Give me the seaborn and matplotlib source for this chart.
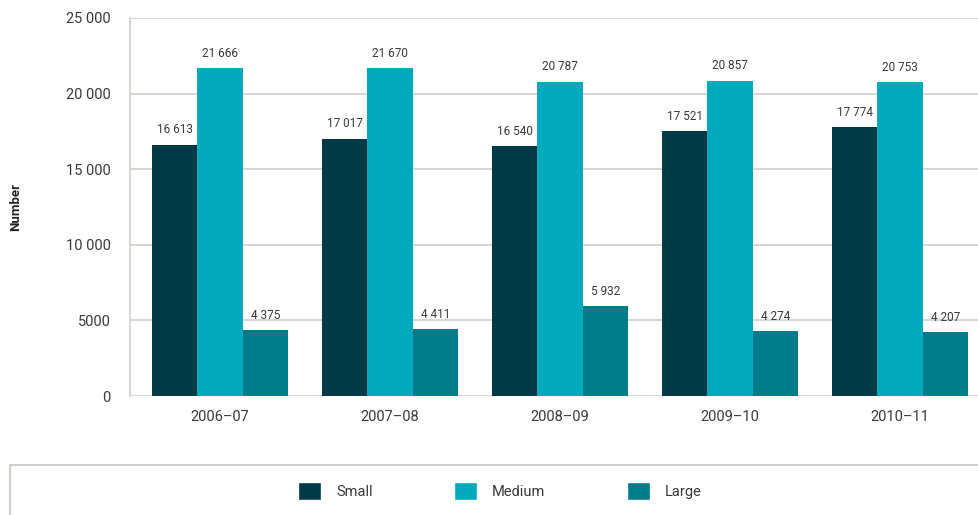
import seaborn as sns
import matplotlib.pyplot as plt
import pandas as pd
from matplotlib.patches import Rectangle, Patch

years = ["2006–07", "2007–08", "2008–09", "2009–10", "2010–11"]
small = [16613, 17017, 16540, 17521, 17774]
medium = [21666, 21670, 20787, 20857, 20753]
large = [4375, 4411, 5932, 4274, 4207]
sizes = ["Small", "Medium", "Large"]
colors = ["#003a47", "#00a9bc", "#007c8a"]
yticks = [0, 5000, 10000, 15000, 20000, 25000]
ytick_labels = ["0", "5000", "10 000", "15 000", "20 000", "25 000"]

df = pd.DataFrame({
    "year": years * 3,
    "size": ["Small"] * 5 + ["Medium"] * 5 + ["Large"] * 5,
    "value": small + medium + large,
})

sns.set_style("white")
plt.rcParams["font.family"] = ["Roboto", "DejaVu Sans"]
txt = "#3a3a3a"
grid_c = "#d3cfcb"

fig = plt.figure(figsize=(9.79, 5.15), dpi=100)
ax = fig.add_axes([130 / 979, 1 - 396 / 515, 1 - 130 / 979, (396 - 18) / 515])

sns.barplot(data=df, x="year", y="value", hue="size", hue_order=sizes,
            palette=colors, width=0.8, saturation=1, linewidth=0,
            ax=ax, legend=False)

for cont in ax.containers:
    ax.bar_label(cont, labels=[f"{int(v):,}".replace(",", " ") for v in cont.datavalues],
                 padding=6, fontsize=8.5, color=txt)

ax.set_ylim(0, 25000)
ax.set_xlim(-0.53, 4.465)
ax.set_yticks(yticks)
ax.set_yticklabels(ytick_labels, fontsize=10.5, color=txt)
ax.tick_params(axis="x", labelsize=10.5, colors=txt, length=0, pad=10)
ax.tick_params(axis="y", length=8, color=grid_c, pad=6)
ax.tick_params(axis="y", labelcolor=txt)
ax.grid(axis="y", color=grid_c, linewidth=1.2)
ax.set_axisbelow(True)
for s in ["top", "right", "bottom"]:
    ax.spines[s].set_visible(False)
ax.spines["left"].set_color(grid_c)
ax.spines["left"].set_linewidth(1.2)
ax.set_xlabel("")
ax.set_ylabel("")
fig.text(16 / 979, 1 - 207 / 515, "Number", rotation=90, ha="center", va="center",
         fontsize=9.5, fontweight="bold", color="#222222")

# legend frame
fig.patches.append(Rectangle((10 / 979, -0.05), 1.0, 0.05 + (515 - 465) / 515,
                             transform=fig.transFigure, fill=False,
                             edgecolor=grid_c, linewidth=1.5))
handles = [Patch(facecolor=c, label=l) for c, l in zip(colors, sizes)]
fig.legend(handles=handles, loc="center", bbox_to_anchor=(500 / 979, 1 - 491 / 515),
           ncol=3, frameon=False, fontsize=10.5, labelcolor=txt,
           handlelength=1.6, handleheight=1.6, handletextpad=1.0, columnspacing=5.6)

fig.savefig("out.png", dpi=100)
